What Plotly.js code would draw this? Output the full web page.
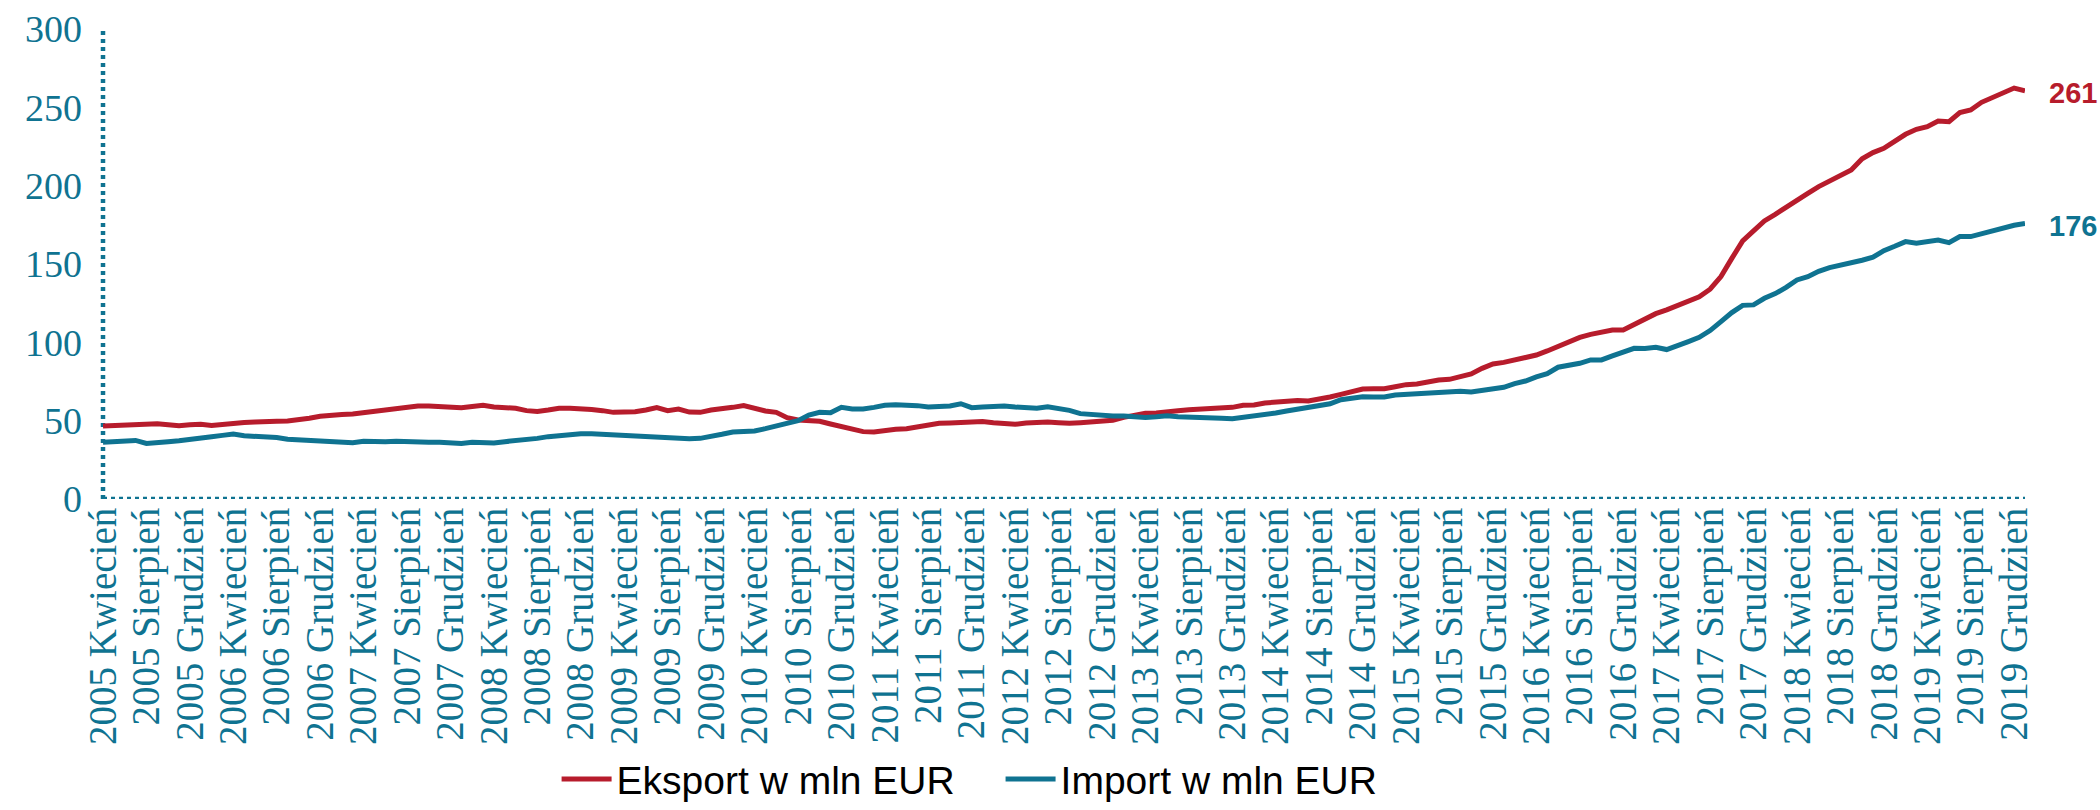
<!DOCTYPE html>
<html>
<head>
<meta charset="utf-8">
<script src="https://cdn.plot.ly/plotly-3.0.1.min.js"></script>
<style>
  html, body { margin: 0; padding: 0; background: #ffffff; }
  #chart { width: 2100px; height: 810px; }
</style>
</head>
<body>
<div id="chart"></div>
<script>
// ---- Data (monthly, from 2005 Kwiecień) ----
const monthNames = ['Styczeń','Luty','Marzec','Kwiecień','Maj','Czerwiec','Lipiec','Sierpień','Wrzesień','Październik','Listopad','Grudzień'];
const startYear = 2005;
const startMonthIndex = 3; // Kwiecień

const eksport = [
  46.6, 46.8, 47.2, 47.4, 47.7, 48.1, 47.4, 46.8, 47.4, 47.7,
  47.0, 47.7, 48.7, 48.9, 49.1, 49.6, 49.6, 49.8, 50.4, 51.5,
  52.8, 53.6, 54.0, 54.2, 55.1, 56.4, 56.6, 57.7, 58.9, 59.4,
  59.4, 59.1, 58.1, 58.3, 59.1, 59.8, 58.7, 58.3, 57.9, 56.4,
  55.9, 56.8, 57.9, 57.9, 57.8, 57.1, 56.4, 55.3, 55.5, 55.7,
  56.8, 58.3, 56.4, 57.4, 55.5, 55.3, 56.8, 57.4, 58.5, 59.6,
  57.7, 56.2, 55.3, 51.9, 50.4, 50.0, 49.6, 47.9, 46.2, 44.9,
  43.0, 42.8, 43.8, 44.5, 44.9, 46.0, 47.7, 48.3, 48.5, 48.9,
  49.1, 49.4, 48.7, 47.9, 47.7, 48.5, 49.1, 49.1, 48.7, 48.3,
  48.7, 49.2, 49.6, 50.2, 52.1, 53.6, 54.7, 54.9, 55.3, 56.4,
  57.0, 57.2, 57.4, 57.7, 58.5, 59.8, 60.0, 61.3, 61.9, 62.8,
  62.8, 62.5, 63.4, 65.1, 66.8, 68.3, 70.2, 70.4, 70.4, 71.7,
  73.0, 73.4, 74.7, 76.0, 76.4, 77.7, 79.8, 83.4, 86.2, 87.2,
  88.9, 90.4, 91.9, 94.5, 97.3, 99.8, 103.2, 105.1, 106.4, 107.9,
  107.9, 111.5, 114.5, 118.3, 120.7, 123.6, 126.4, 129.0, 133.9, 142.0,
  153.6, 164.7, 171.1, 177.5, 181.7, 186.4, 191.3, 195.1, 199.4, 203.0,
  206.8, 210.0, 217.2, 221.1, 223.8, 228.1, 232.8, 236.0, 237.7, 241.3,
  240.8, 246.6, 248.3, 253.2, 256.2, 258.5, 262.3, 260.6
];

const importVals = [
  36.2, 36.4, 36.8, 37.4, 35.5, 35.7, 36.6, 37.2, 38.3, 39.2,
  39.8, 40.6, 41.5, 40.4, 40.0, 39.8, 39.2, 38.1, 37.7, 37.4,
  36.8, 36.2, 35.9, 35.9, 36.8, 36.4, 36.6, 36.8, 36.4, 35.9,
  36.2, 36.2, 35.5, 35.5, 36.2, 35.7, 35.7, 36.6, 37.2, 37.7,
  38.7, 39.8, 40.6, 40.9, 41.7, 41.7, 41.3, 41.5, 40.9, 40.0,
  39.6, 39.4, 38.9, 38.7, 38.5, 38.7, 39.6, 41.3, 42.8, 43.0,
  43.4, 44.9, 46.4, 48.1, 50.0, 53.6, 55.3, 55.1, 58.5, 57.4,
  57.4, 58.5, 59.8, 60.2, 60.0, 59.6, 58.7, 58.9, 59.4, 60.8,
  58.3, 58.7, 59.1, 59.4, 58.7, 58.3, 57.9, 58.9, 57.9, 56.6,
  54.5, 53.8, 53.2, 53.0, 53.0, 52.5, 52.1, 52.5, 53.2, 52.5,
  52.1, 52.1, 51.9, 51.5, 51.3, 52.1, 53.0, 53.8, 54.9, 56.2,
  57.2, 58.1, 59.1, 60.8, 63.4, 64.5, 65.3, 65.1, 65.1, 66.4,
  66.8, 67.0, 67.7, 68.5, 68.7, 68.7, 68.3, 69.1, 70.2, 71.3,
  73.6, 75.3, 77.9, 80.0, 84.1, 85.2, 86.6, 88.8, 88.8, 91.3,
  93.7, 96.2, 96.0, 96.9, 95.4, 97.7, 100.5, 103.2, 107.5, 113.2,
  119.0, 123.6, 123.9, 128.1, 131.1, 135.1, 139.8, 141.9, 145.3, 147.7,
  149.2, 150.2, 152.4, 154.3, 158.5, 161.3, 164.3, 163.2, 164.3, 165.3,
  163.6, 167.5, 167.5, 169.4, 170.7, 173.0, 174.7, 175.8
];

const seriesNames = ['Eksport w mln EUR', 'Import w mln EUR'];
const yTickVals = [0, 50, 100, 150, 200, 250, 300];
const tickEvery = 4;

// ---- Category labels ----
const categories = eksport.map((_, i) => {
  const m = startMonthIndex + i;
  return (startYear + Math.floor(m / 12)) + ' ' + monthNames[m % 12];
});
const tickLabels = categories.filter((_, i) => i % tickEvery === 0);

const RED = '#B71C2C';
const TEAL = '#0F7391';
const serif = '"Liberation Serif", "DejaVu Serif", serif';
const sans = '"Liberation Sans", Arial, sans-serif';

const traces = [
  { x: categories, y: eksport, name: seriesNames[0], type: 'scatter', mode: 'lines',
    line: { color: RED, width: 5 }, hoverinfo: 'skip', legend: 'legend' },
  { x: categories, y: importVals, name: seriesNames[1], type: 'scatter', mode: 'lines',
    line: { color: TEAL, width: 5 }, hoverinfo: 'skip', legend: 'legend2' }
];

const lastE = eksport[eksport.length - 1];
const lastI = importVals[importVals.length - 1];

const legendBase = {
  orientation: 'h', xanchor: 'left', y: -0.664, yanchor: 'bottom',
  font: { family: sans, size: 39, color: '#000000' },
  bgcolor: 'rgba(0,0,0,0)', itemwidth: 50
};

const layout = {
  width: 2100, height: 810,
  margin: { l: 103, r: 75, t: 29, b: 311, autoexpand: false },
  paper_bgcolor: '#ffffff', plot_bgcolor: '#ffffff',
  showlegend: true,
  legend: Object.assign({}, legendBase, { x: 0.236 }),
  legend2: Object.assign({}, legendBase, { x: 0.467 }),
  xaxis: {
    type: 'category', categoryorder: 'array', categoryarray: categories,
    range: [0, categories.length - 1],
    showgrid: false, zeroline: false, showline: false, ticks: '',
    tickmode: 'array', tickvals: tickLabels, ticktext: tickLabels,
    tickangle: -90,
    tickfont: { family: serif, size: 39, color: TEAL },
    fixedrange: true
  },
  yaxis: {
    range: [0, 300], tickmode: 'array', tickvals: yTickVals,
    showgrid: false, zeroline: false, showline: false, ticks: '',
    ticklabelstandoff: 20,
    tickfont: { family: serif, size: 38, color: TEAL },
    fixedrange: true
  },
  shapes: [
    { type: 'line', xref: 'paper', yref: 'y', x0: 0, x1: 0, y0: 0, y1: 300,
      line: { color: TEAL, width: 4.5, dash: '4px,4px' }, layer: 'below' },
    { type: 'line', xref: 'paper', yref: 'y', x0: 0, x1: 1, y0: 0, y1: 0,
      line: { color: TEAL, width: 4.5, dash: '4px,4px' }, layer: 'below' }
  ],
  annotations: [
    { xref: 'paper', yref: 'y', x: 1, y: lastE, xanchor: 'left', yanchor: 'middle',
      xshift: 22, yshift: -2, showarrow: false, text: String(Math.round(lastE)),
      font: { family: sans, size: 29, color: RED, weight: 'bold' } },
    { xref: 'paper', yref: 'y', x: 1, y: lastI, xanchor: 'left', yanchor: 'middle',
      xshift: 22, yshift: -2, showarrow: false, text: String(Math.round(lastI)),
      font: { family: sans, size: 29, color: TEAL, weight: 'bold' } }
  ]
};

Plotly.newPlot('chart', traces, layout, { staticPlot: true, displayModeBar: false });
</script>
</body>
</html>
